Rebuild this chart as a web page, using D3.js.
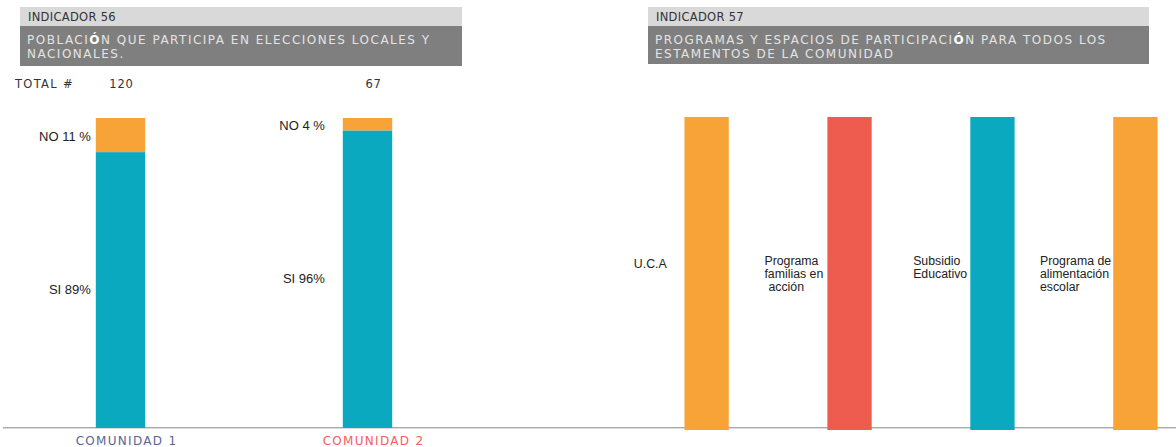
<!DOCTYPE html>
<html>
<head>
<meta charset="utf-8">
<script src="https://cdn.jsdelivr.net/npm/d3@7"></script>
<style>
  body { margin: 0; background: #fff; }
  svg { display: block; }
  .hdr { font-family: "DejaVu Sans", sans-serif; }
  .lbl { font-family: "Liberation Sans", Arial, sans-serif; font-size: 13px; fill: #222; }
</style>
</head>
<body>
<svg width="1176" height="447"></svg>
<script>
// ---- data ----
var comunidades = ["COMUNIDAD 1", "COMUNIDAD 2"];
var totales = [120, 67];
var si = [89, 96];
var no = [11, 4];
var siLabels = ["SI 89%", "SI 96%"];
var noLabels = ["NO 11 %", "NO 4 %"];

var programas = ["U.C.A", "Programa familias en acción", "Subsidio Educativo", "Programa de alimentación escolar"];
var programaLineas = [["U.C.A"], ["Programa", "familias en", " acción"], ["Subsidio", "Educativo"], ["Programa de", "alimentación", "escolar"]];
var programaValores = [100, 100, 100, 100];

var ORANGE = "#f7a338", TEAL = "#0aa9c0", RED = "#ee5b4f";
var programaColores = [ORANGE, RED, TEAL, ORANGE];

var svg = d3.select("svg");

// ---- headers ----
function header(x, w, darkH, num, lines) {
	var g = svg.append("g").attr("class", "hdr");
	g.append("rect").attr("x", x).attr("y", 7).attr("width", w).attr("height", 19).attr("fill", "#d9d9d9");
	g.append("rect").attr("x", x).attr("y", 26).attr("width", w).attr("height", darkH).attr("fill", "#7f7f7f");
	g.append("text").attr("x", x + 8).attr("y", 21)
		.style("font-size", "11.5px").style("letter-spacing", "0.3px").attr("fill", "#333")
		.text("INDICADOR " + num);
	lines.forEach(function (l, i) {
		var t = g.append("text").attr("x", x + 7).attr("y", 44 + i * 13.5)
			.style("font-size", "12px").style("letter-spacing", "1.5px").attr("fill", "#e4e4e4");
		var parts = l.split("Ó");
		parts.forEach(function (p, j) {
			t.append("tspan").text(p);
			if (j < parts.length - 1) t.append("tspan").attr("fill", "#fff").style("font-weight", "bold").text("Ó");
		});
	});
}
header(20, 442, 40, 56, ["POBLACIÓN QUE PARTICIPA EN ELECCIONES LOCALES Y", "NACIONALES."]);
header(648, 501, 38, 57, ["PROGRAMAS Y ESPACIOS DE PARTICIPACIÓN PARA TODOS LOS", "ESTAMENTOS DE LA COMUNIDAD"]);

// ---- baseline ----
svg.append("line").attr("x1", 3).attr("x2", 1176).attr("y1", 427.5).attr("y2", 427.5).attr("stroke", "#a8a8a8");
svg.append("line").attr("x1", 3).attr("x2", 1176).attr("y1", 428.5).attr("y2", 428.5).attr("stroke", "#dcdcdc");

// ---- indicador 56 ----
var x1 = d3.scaleBand().domain(comunidades).range([-3, 491]).paddingInner(0.8).paddingOuter(0.4);
var y1 = d3.scaleLinear().domain([0, 100]).range([428, 118]);
var leftGap = [5, 18];
var totalNudge = [1, 6];

var left = svg.append("g");
left.selectAll("rect.si").data(comunidades).enter().append("rect")
	.attr("x", function (d) { return x1(d); })
	.attr("width", x1.bandwidth())
	.attr("y", function (d, i) { return y1(si[i]); })
	.attr("height", function (d, i) { return y1(0) - y1(si[i]); })
	.attr("fill", TEAL);
left.selectAll("rect.no").data(comunidades).enter().append("rect")
	.attr("x", function (d) { return x1(d); })
	.attr("width", x1.bandwidth())
	.attr("y", function (d, i) { return y1(si[i] + no[i]); })
	.attr("height", function (d, i) { return y1(si[i]) - y1(si[i] + no[i]); })
	.attr("fill", ORANGE);

left.selectAll("text.no").data(comunidades).enter().append("text").attr("class", "lbl")
	.attr("x", function (d, i) { return x1(d) - leftGap[i]; })
	.attr("y", function (d, i) { return (y1(si[i]) + y1(si[i] + no[i])) / 2 + 6; })
	.attr("text-anchor", "end")
	.text(function (d, i) { return noLabels[i]; });
left.selectAll("text.si").data(comunidades).enter().append("text").attr("class", "lbl")
	.attr("x", function (d, i) { return x1(d) - leftGap[i]; })
	.attr("y", function (d, i) { return (y1(0) + y1(si[i])) / 2 + 4; })
	.attr("text-anchor", "end")
	.text(function (d, i) { return siLabels[i]; });

// totals
svg.append("text").attr("class", "hdr").attr("x", 15).attr("y", 88)
	.style("font-size", "11.5px").style("letter-spacing", "1.3px").attr("fill", "#333").text("TOTAL #");
left.selectAll("text.tot").data(comunidades).enter().append("text").attr("class", "hdr")
	.attr("x", function (d, i) { return x1(d) + x1.bandwidth() / 2 + totalNudge[i]; })
	.attr("y", 88)
	.attr("text-anchor", "middle")
	.style("font-size", "11.5px").style("letter-spacing", "0.8px").attr("fill", "#333")
	.text(function (d, i) { return totales[i]; });

// community axis
var ax = svg.append("g").attr("transform", "translate(6,428)")
	.call(d3.axisBottom(x1).tickSize(0).tickPadding(8));
ax.select(".domain").remove();
ax.selectAll("text")
	.attr("class", "hdr")
	.style("font-size", "12px").style("letter-spacing", "1.3px")
	.attr("fill", function (d, i) { return i == 0 ? "#5a6692" : "#f2605a"; });

// ---- indicador 57 ----
var x2 = d3.scaleBand().domain(programas).range([613, 1229]).paddingInner(0.69).paddingOuter(0.5);
var y2 = d3.scaleLinear().domain([0, 100]).range([430, 117]);
var labelGap = [17, 4, 3, 2];

var right = svg.append("g");
right.selectAll("rect").data(programas).enter().append("rect")
	.attr("x", function (d) { return x2(d); })
	.attr("width", x2.bandwidth())
	.attr("y", function (d, i) { return y2(programaValores[i]); })
	.attr("height", function (d, i) { return y2(0) - y2(programaValores[i]); })
	.attr("fill", function (d, i) { return programaColores[i]; });

programas.forEach(function (p, i) {
	var lines = programaLineas[i];
	var t = right.append("text").attr("class", "lbl").style("font-size", "12.3px");
	lines.forEach(function (l, j) {
		t.append("tspan").attr("x", 0)
			.attr("y", (lines.length == 1 ? 268 : 265) + j * 13)
			.attr("dx", l.charAt(0) == " " ? 4 : 0)
			.text(l.trim());
	});
	var w = t.node().getBBox().width;
	t.attr("transform", "translate(" + (x2(p) - labelGap[i] - w) + ",0)");
});
</script>
</body>
</html>
